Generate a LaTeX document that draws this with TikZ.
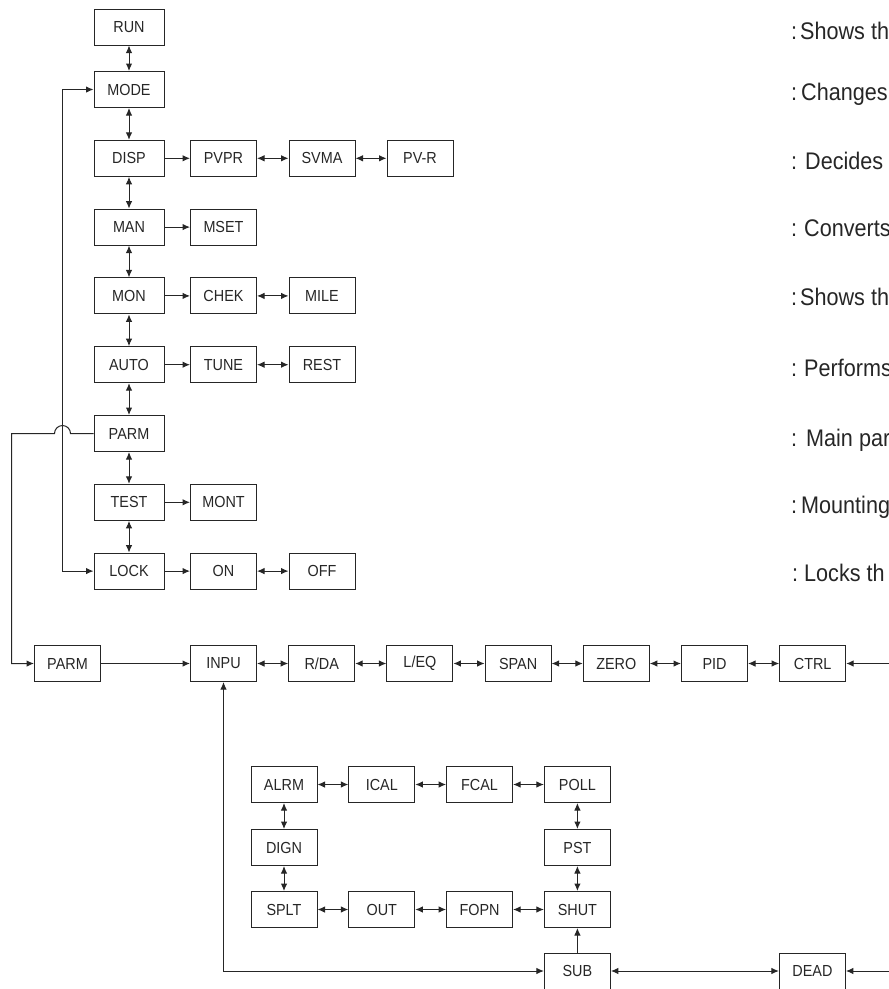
\documentclass[tikz,border=0pt]{standalone}
\usepackage{fontspec}
\setmainfont[FakeStretch=0.9]{Liberation Sans}
\usetikzlibrary{shapes,arrows,arrows.meta}
\tikzstyle{block} = [rectangle, draw=black!85, line width=1pt, text=black!85,
    minimum width=66pt, minimum height=36pt, inner sep=0pt, font=\fontsize{16}{18}\selectfont]
\tikzstyle{wide} = [block, minimum width=70pt]
\tikzstyle{line} = [draw=black!85, line width=1pt, -{Latex[length=7.5pt,width=6.5pt]}]
\tikzstyle{both} = [draw=black!85, line width=1pt, {Latex[length=7.5pt,width=6.5pt]}-{Latex[length=7.5pt,width=6.5pt]}]
\tikzstyle{note} = [anchor=base west, inner sep=0pt, text=black!85, font=\fontsize{24}{28}\selectfont]

\begin{document}
\begin{tikzpicture}[x=1pt, y=-1pt, node distance=68.8pt]
	\useasboundingbox (0,0) rectangle (889,989);
	\clip (0,0) rectangle (889,989);

		\node [wide] (run) at (129,27) {RUN};
		\node [wide, node distance=62.5pt, below of=run] (mode) {MODE};
		\node [wide, below of=mode] (disp) {DISP};
		\node [wide, below of=disp] (man) {MAN};
		\node [wide, below of=man] (mon) {MON};
		\node [wide, below of=mon] (auto) {AUTO};
		\node [wide, below of=auto] (parm) {PARM};
		\node [wide, below of=parm] (test) {TEST};
		\node [wide, below of=test] (lock) {LOCK};

		\node [block, node distance=94.5pt, right of=disp] (pvpr) {PVPR};
		\node [block, node distance=98.5pt, right of=pvpr] (svma) {SVMA};
		\node [block, node distance=98pt, right of=svma] (pvr) {PV-R};
		\node [block, node distance=94.5pt, right of=man] (mset) {MSET};
		\node [block, node distance=94.5pt, right of=mon] (chek) {CHEK};
		\node [block, node distance=98.5pt, right of=chek] (mile) {MILE};
		\node [block, node distance=94.5pt, right of=auto] (tune) {TUNE};
		\node [block, node distance=98.5pt, right of=tune] (rest) {REST};
		\node [block, node distance=94.5pt, right of=test] (mont) {MONT};
		\node [block, node distance=94.5pt, right of=lock] (on) {ON};
		\node [block, node distance=98.5pt, right of=on] (off) {OFF};

		\node [note] (nrun) at (791,39) {:\hspace{3pt}Shows th};
		\node [note] (nmode) at (791,100) {:\hspace{4pt}Changes};
		\node [note] (ndisp) at (791,169) {:\hspace{8pt}Decides};
		\node [note] (nman) at (791,236) {:\hspace{7pt}Converts};
		\node [note] (nmon) at (791,305) {:\hspace{3pt}Shows th};
		\node [note] (nauto) at (791,376) {:\hspace{7pt}Performs};
		\node [note] (nparm) at (791,446) {:\hspace{9pt}Main par};
		\node [note] (ntest) at (791,513) {:\hspace{4pt}Mounting};
		\node [note] (nlock) at (792,581) {:\hspace{6pt}Locks th};

		\node [block] (parmb) at (67.5,663.5) {PARM};
		\node [block, node distance=156pt, right of=parmb] (inpu) {INPU};
		\node [block, node distance=98.2pt, right of=inpu] (rda) {R/DA};
		\node [block, node distance=98.2pt, right of=rda] (leq) {L/EQ};
		\node [block, node distance=98.2pt, right of=leq] (span) {SPAN};
		\node [block, node distance=98.2pt, right of=span] (zero) {ZERO};
		\node [block, node distance=98.2pt, right of=zero] (pid) {PID};
		\node [block, node distance=98.2pt, right of=pid] (ctrl) {CTRL};

		\node [block] (alrm) at (284,784.5) {ALRM};
		\node [block, node distance=97.8pt, right of=alrm] (ical) {ICAL};
		\node [block, node distance=97.8pt, right of=ical] (fcal) {FCAL};
		\node [block, node distance=97.8pt, right of=fcal] (poll) {POLL};
		\node [block, node distance=63pt, below of=alrm] (dign) {DIGN};
		\node [block, node distance=62pt, below of=dign] (splt) {SPLT};
		\node [block, node distance=97.8pt, right of=splt] (out) {OUT};
		\node [block, node distance=97.8pt, right of=out] (fopn) {FOPN};
		\node [block, node distance=97.8pt, right of=fopn] (shut) {SHUT};
		\node [block, node distance=63pt, below of=poll] (pst) {PST};
		\node [block, node distance=61.5pt, below of=shut] (sub) {SUB};
		\node [block, node distance=235pt, right of=sub] (dead) {DEAD};

		\coordinate (ctrlin) at (895,663.5);
		\coordinate (deadin) at (895,971);

		\path [both] (run) -- (mode);
		\path [both] (mode) -- (disp);
		\path [both] (disp) -- (man);
		\path [both] (man) -- (mon);
		\path [both] (mon) -- (auto);
		\path [both] (auto) -- (parm);
		\path [both] (parm) -- (test);
		\path [both] (test) -- (lock);

		\path [line] (disp) -- (pvpr);
		\path [both] (pvpr) -- (svma);
		\path [both] (svma) -- (pvr);
		\path [line] (man) -- (mset);
		\path [line] (mon) -- (chek);
		\path [both] (chek) -- (mile);
		\path [line] (auto) -- (tune);
		\path [both] (tune) -- (rest);
		\path [line] (test) -- (mont);
		\path [line] (lock) -- (on);
		\path [both] (on) -- (off);

		\path [both] (mode.west) -- ++(-31,0) |- (lock.west);
		\path [line] (parm.west) -- ++(-23,0) arc [start angle=0, end angle=-180, radius=8] -- ++(-43,0) |- (parmb.west);

		\path [line] (parmb) -- (inpu);
		\path [both] (inpu) -- (rda);
		\path [both] (rda) -- (leq);
		\path [both] (leq) -- (span);
		\path [both] (span) -- (zero);
		\path [both] (zero) -- (pid);
		\path [both] (pid) -- (ctrl);
		\path [line] (ctrlin) -- (ctrl);

		\path [both] (alrm) -- (ical);
		\path [both] (ical) -- (fcal);
		\path [both] (fcal) -- (poll);
		\path [both] (alrm) -- (dign);
		\path [both] (dign) -- (splt);
		\path [both] (poll) -- (pst);
		\path [both] (pst) -- (shut);
		\path [both] (splt) -- (out);
		\path [both] (out) -- (fopn);
		\path [both] (fopn) -- (shut);
		\path [line] (sub) -- (shut);
		\path [both] (inpu.south) |- (sub.west);
		\path [both] (sub) -- (dead);
		\path [line] (deadin) -- (dead);
	\end{tikzpicture}
\end{document}
